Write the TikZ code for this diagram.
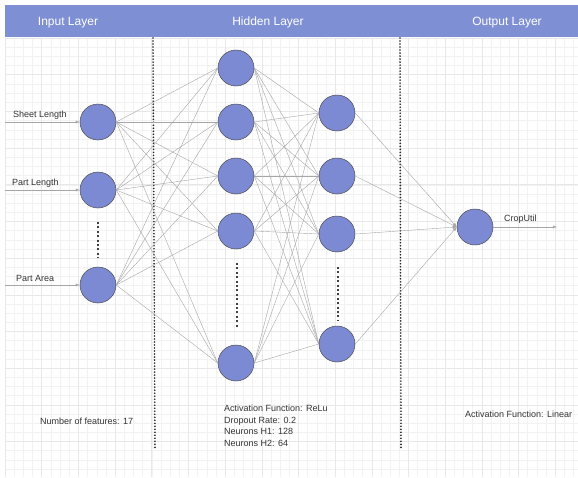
\documentclass[tikz,border=0pt]{standalone}
\usepackage{fontspec}
\setmainfont{Liberation Sans}
\usetikzlibrary{arrows.meta}
\definecolor{hdr}{HTML}{7F8FD4}
\definecolor{nodefill}{HTML}{7B8AD2}
\definecolor{txt}{HTML}{333333}
\definecolor{gridminor}{HTML}{F2F2F2}
\definecolor{gridmajor}{HTML}{E8E8E8}
\tikzset{
  neuron/.style={circle,draw=black!70,fill=nodefill,line width=0.5pt,minimum size=36pt,inner sep=0pt},
  conn/.style={draw=black!35,line width=0.4pt},
  connarrow/.style={conn,-{Latex[length=4pt,width=3pt]}},
  lbl/.style={text=txt,font=\fontsize{9}{11.5}\selectfont,inner sep=0pt},
  hdrtext/.style={text=white,font=\fontsize{12}{14}\selectfont,inner sep=0pt},
  sep/.style={line width=1.8pt,dash pattern=on 0.01pt off 3pt,line cap=round,draw=black!85},
  dotsv/.style={line width=1.3pt,dash pattern=on 2pt off 2.4pt,draw=black!75}
}
\begin{document}
\begin{tikzpicture}[x=1pt,y=-1pt]
\useasboundingbox (0,0) rectangle (578,477);
\fill[white] (0,0) rectangle (578,477);
% grid
\foreach \i in {0,...,63} {\draw[gridminor,line width=0.4pt] ({5+\i*9.17},38) -- ({5+\i*9.17},477);}
\foreach \j in {0,...,48} {\draw[gridminor,line width=0.4pt] (5,{38+\j*9.17}) -- (578,{38+\j*9.17});}
\foreach \i in {0,...,16} {\draw[gridmajor,line width=0.5pt] ({5+\i*36.68},38) -- ({5+\i*36.68},477);}
\foreach \j in {0,...,12} {\draw[gridmajor,line width=0.5pt] (5,{38+\j*36.68}) -- (578,{38+\j*36.68});}
% header
\fill[hdr] (5,5) rectangle (578,37);
\node[hdrtext,anchor=base] (hin) at (68,25) {Input Layer};
\node[hdrtext,anchor=base] (hhid) at (268,25) {Hidden Layer};
\node[hdrtext,anchor=base] (hout) at (507,25) {Output Layer};
% separators
\coordinate (s1t) at (153,38); \coordinate (s1b) at (155,448);
\coordinate (s2t) at (400,38); \coordinate (s2b) at (401,448);
\draw[sep] (s1t) -- (s1b);
\draw[sep] (s2t) -- (s2b);
% neurons
\node[neuron] (i1) at (98,122) {};
\node[neuron] (i2) at (98,190) {};
\node[neuron] (i3) at (98,285) {};
\node[neuron] (h1) at (236,68) {};
\node[neuron] (h2) at (236,122) {};
\node[neuron] (h3) at (236,176) {};
\node[neuron] (h4) at (236,231) {};
\node[neuron] (h5) at (236,363) {};
\node[neuron] (g1) at (337,113) {};
\node[neuron] (g2) at (337,176) {};
\node[neuron] (g3) at (337,234) {};
\node[neuron] (g4) at (337,344) {};
\node[neuron] (o) at (475,227) {};
% vertical dots
\coordinate (d1t) at (98,222); \coordinate (d1b) at (98,258);
\coordinate (d2t) at (237,263); \coordinate (d2b) at (237,327);
\coordinate (d3t) at (338,267); \coordinate (d3b) at (338,320);
\draw[dotsv] (d1t) -- (d1b);
\draw[dotsv] (d2t) -- (d2b);
\draw[dotsv] (d3t) -- (d3b);
% connections
\foreach \a in {i1,i2,i3} \foreach \b in {h1,h2,h3,h4,h5} {\draw[conn] (\a.east) -- (\b.west);}
\foreach \a in {h1,h2,h3,h4,h5} \foreach \b in {g1,g2,g3,g4} {\draw[conn] (\a.east) -- (\b.west);}
\foreach \a in {g1,g2,g3,g4} {\draw[connarrow] (\a.east) -- (o.west);}
% inputs
\coordinate (in1) at (5,122); \coordinate (in2) at (5,190); \coordinate (in3) at (5,285);
\draw[connarrow] (in1) -- (i1.west);
\draw[connarrow] (in2) -- (i2.west);
\draw[connarrow] (in3) -- (i3.west);
\node[lbl,anchor=west] (l1) at (13,115) {Sheet Length};
\node[lbl,anchor=west] (l2) at (12,183) {Part Length};
\node[lbl,anchor=west] (l3) at (16,278) {Part Area};
% output
\coordinate (out) at (557,227);
\draw[connarrow] (o.east) -- (out);
\node[lbl,anchor=west] (lo) at (504,219) {CropUtil};
% notes
\node[lbl,anchor=west] (n1) at (40,421) {Number of features: 17};
\node[lbl,anchor=north west,align=left] (n2) at (224,405) {Activation Function: ReLu\\Dropout Rate: 0.2\\Neurons H1: 128\\Neurons H2: 64};
\node[lbl,anchor=west] (n3) at (465,414) {Activation Function: Linear};
\end{tikzpicture}
\end{document}
